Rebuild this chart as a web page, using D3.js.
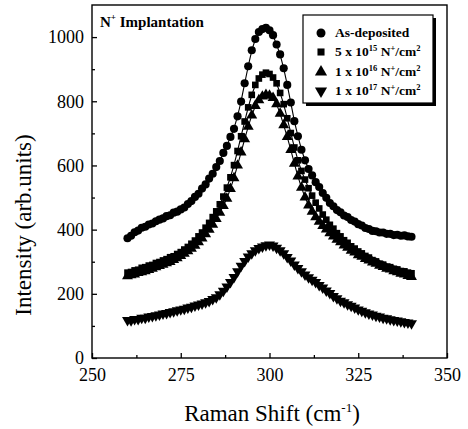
<!DOCTYPE html>
<html><head><meta charset="utf-8">
<script src="https://cdn.jsdelivr.net/npm/d3@7"></script>
<style>body{margin:0;background:#fff}svg{display:block}text{font-family:"Liberation Serif","Times New Roman",serif;fill:#000}</style>
</head><body><svg id="c" width="468" height="429"></svg>
<script>
const shifts = d3.range(260, 341, 1);
const asDeposited = [373,381,392,397,406,409,416,419,426,431,435,442,445,453,456,463,469,480,489,502,512,528,541,559,574,595,614,639,661,689,714,753,799,856,909,959,994,1016,1025,1029,1021,1006,977,946,903,851,796,738,691,649,616,589,569,548,533,514,499,483,473,461,454,444,439,430,425,417,413,405,402,396,395,391,391,387,387,383,384,381,382,379,378];
const dose5e15 = [266,268,273,275,281,283,288,290,296,299,304,308,314,317,324,330,338,346,356,366,379,391,406,421,439,457,479,503,531,563,601,645,691,737,781,820,851,871,883,889,885,874,856,826,791,747,701,656,616,583,556,529,506,484,466,447,431,415,403,389,379,367,359,348,341,332,326,318,313,305,301,294,291,285,283,278,276,271,270,266,264];
const dose1e16 = [255,258,261,265,268,271,275,279,283,287,291,296,300,306,311,318,325,333,341,350,361,373,386,400,416,434,453,474,497,527,561,600,641,682,721,756,786,804,815,820,818,811,791,762,726,689,649,606,566,531,501,476,456,439,425,412,401,389,379,369,361,351,344,335,329,321,316,309,304,298,294,288,284,279,276,271,268,263,261,256,253];
const dose1e17 = [118,117,121,121,125,125,129,130,133,135,138,140,143,145,148,151,153,157,159,163,166,169,173,177,183,189,198,209,222,236,252,270,287,302,316,326,335,342,347,351,353,350,343,335,326,314,303,291,280,270,260,251,243,236,227,219,210,202,193,186,178,173,167,162,157,151,147,142,138,135,131,129,125,123,120,118,116,114,112,110,108];
const xTicks = [250,275,300,325,350];
const yTicks = [0,200,400,600,800,1000];
const seriesNames = ["As-deposited","5 x 10|15| N|+|/cm|2","1 x 10|16| N|+|/cm|2","1 x 10|17| N|+|/cm|2"];
const seriesValues = [asDeposited, dose5e15, dose1e16, dose1e17];
const seriesSymbols = [d3.symbolCircle, d3.symbolSquare, d3.symbolTriangle, d3.symbolTriangle];

const svg = d3.select("#c");
const x = d3.scaleLinear().domain([250,350]).range([92,447]);
const y = d3.scaleLinear().domain([0,1100]).range([358,5]);

svg.append("rect").attr("x",92).attr("y",5).attr("width",355).attr("height",353)
  .attr("fill","none").attr("stroke","#000").attr("stroke-width",1.4);

svg.append("g").attr("transform","translate(0,358)")
  .call(d3.axisBottom(x).tickValues(xTicks).tickSize(-5).tickPadding(10).tickFormat(d3.format("d")));
svg.append("g").attr("transform","translate(0,358)")
  .call(d3.axisBottom(x).tickValues(d3.range(262.5,350,25)).tickSize(-3).tickFormat(""));
svg.append("g").attr("transform","translate(92,0)")
  .call(d3.axisLeft(y).tickValues(yTicks).tickSize(-5).tickPadding(8).tickFormat(d3.format("d")));
svg.append("g").attr("transform","translate(92,0)")
  .call(d3.axisLeft(y).tickValues(d3.range(100,1100,200)).tickSize(-3).tickFormat(""));
svg.selectAll(".domain").remove();
svg.selectAll(".tick line").attr("stroke","#000").attr("stroke-width",1.3);
svg.selectAll(".tick text").style("font-family","'Liberation Serif',serif").style("font-size","18px").attr("fill","#000");

const line = d3.line().x((d,i)=>x(shifts[i])).y(d=>y(d)).curve(d3.curveBasis);
seriesValues.forEach(vals=>{
  svg.append("path").attr("d",line(vals)).attr("fill","none").attr("stroke","#000").attr("stroke-width",1.1);
});

const sym = (k,size)=>d3.symbol().type(seriesSymbols[k]).size(size)();
seriesValues.forEach((vals,k)=>{
  svg.append("g").selectAll("path").data(vals).join("path")
    .attr("d",sym(k,k===1?44:52))
    .attr("transform",(d,i)=>`translate(${x(shifts[i])},${y(d)})${k===3?" rotate(180)":""}`)
    .attr("fill","#000");
});

const t = svg.append("text").attr("x",100).attr("y",27).attr("font-size",15).attr("font-weight","bold");
t.append("tspan").text("N");
t.append("tspan").attr("dy",-7).attr("font-size",9).text("+");
t.append("tspan").attr("dy",7).text(" Implantation");

const lg = svg.append("g");
lg.append("rect").attr("x",306).attr("y",18).attr("width",130).attr("height",88).attr("fill","#000");
lg.append("rect").attr("x",303).attr("y",15).attr("width",130).attr("height",88).attr("fill","#fff").attr("stroke","#000").attr("stroke-width",1.2);
const rowsY = [33,52,72,91];
seriesNames.forEach((name,k)=>{
  lg.append("path").attr("d",sym(k,k===1?50:64))
    .attr("transform",`translate(321,${rowsY[k]})${k===3?" rotate(180)":""}`).attr("fill","#000");
  const tx = lg.append("text").attr("x",335).attr("y",rowsY[k]+4).attr("font-size",13.5).attr("font-weight","bold");
  const parts = name.split("|");
  parts.forEach((p,j)=>{
    if(j%2===0){ tx.append("tspan").attr("dy", j===0?0:5).attr("font-size",13.5).text(p); }
    else { tx.append("tspan").attr("dy",-5).attr("font-size",8.5).text(p); }
  });
});

const xt = svg.append("text").attr("x",272).attr("y",421).attr("text-anchor","middle").attr("font-size",23);
xt.append("tspan").text("Raman Shift (cm");
xt.append("tspan").attr("dy",-9).attr("font-size",13).text("-1");
xt.append("tspan").attr("dy",9).text(")");
svg.append("text").attr("transform","translate(31,225) rotate(-90)").attr("text-anchor","middle")
  .attr("font-size",23).text("Intensity (arb.units)");
</script></body></html>
